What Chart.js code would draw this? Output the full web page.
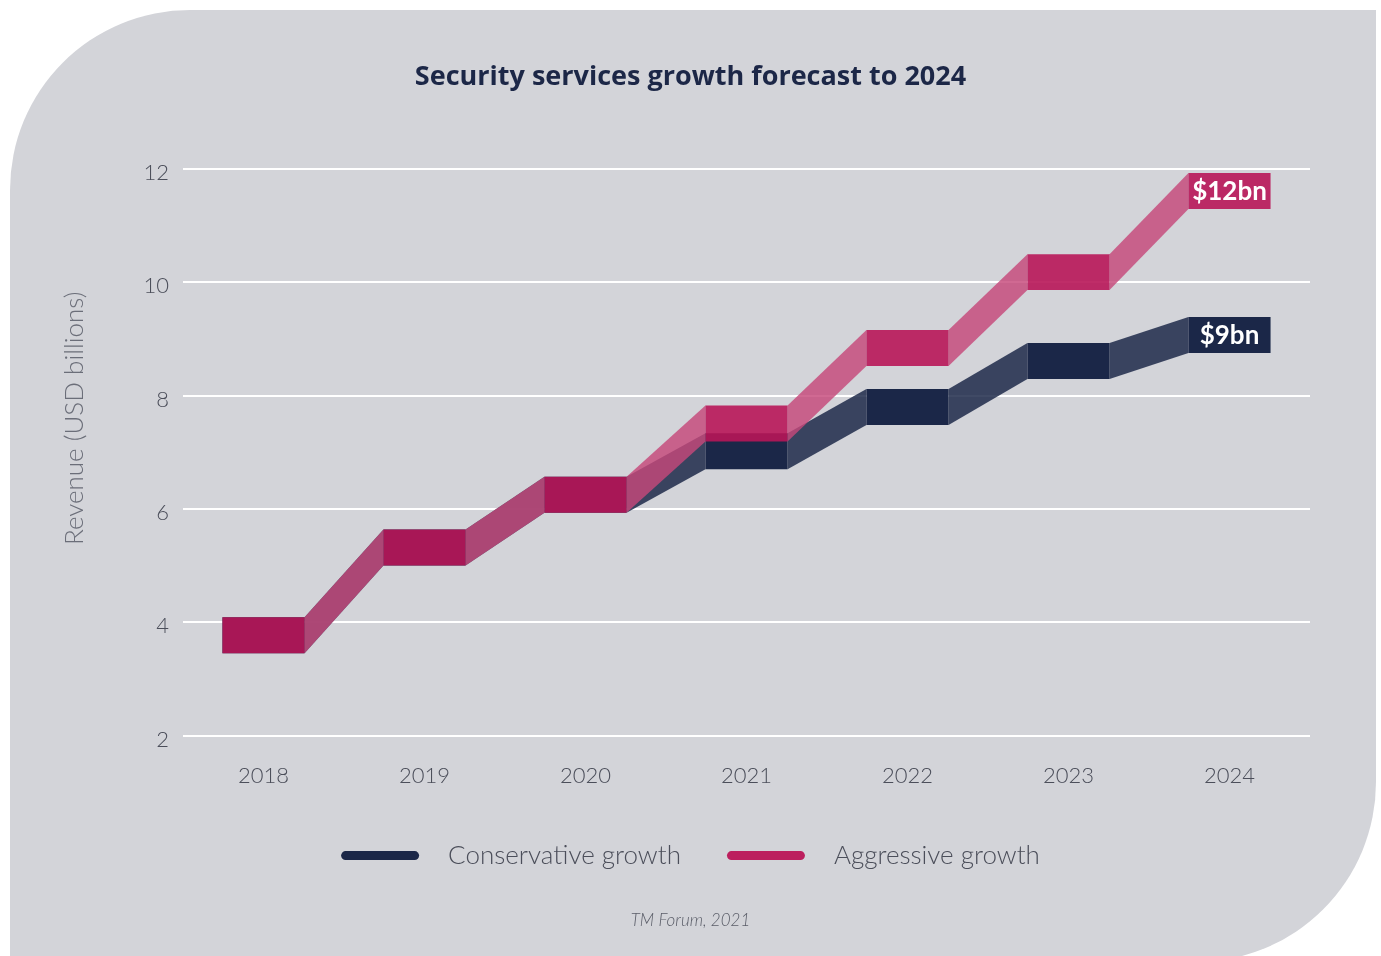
<!DOCTYPE html>
<html>
<head>
<meta charset="utf-8">
<title>Security services growth forecast</title>
<script src="https://cdn.jsdelivr.net/npm/chart.js@4.4.1/dist/chart.umd.min.js"></script>
<style>
  html, body { margin: 0; padding: 0; background: #ffffff; }
  #wrap { position: relative; width: 1381px; height: 956px; overflow: hidden; }
  #card {
    position: absolute; left: 10px; top: 10px; width: 1366px; height: 952px;
    background: #d3d4d9;
    border-radius: 180px 0 180px 0;
  }
  #chart-box { position: absolute; left: 0; top: 0; width: 1381px; height: 956px; }
</style>
</head>
<body>
<div id="wrap">
  <div id="card"></div>
  <div id="chart-box"><canvas id="growth-chart"></canvas></div>
</div>
<script>
// Revenue forecast, USD billions (middle of each year's band)
const years = ['2018', '2019', '2020', '2021', '2022', '2023', '2024'];
const conservative = [3.77, 5.32, 6.25, 7.02, 7.80, 8.61, 9.07];
const aggressive = [3.77, 5.32, 6.25, 7.51, 8.84, 10.18, 11.61];
const yTicks = [2, 4, 6, 8, 10, 12];

// thickness of each band, in billions
const BAND = 0.635;

const NAVY = '#1b2748';
const NAVY_LINK = 'rgba(27, 39, 72, 0.84)';
const PINK = 'rgba(184, 22, 88, 0.9)';
const PINK_LINK = 'rgba(198, 72, 122, 0.82)';
const PINK_SOLID = '#bc1f5e';
const TEXT = '#4b4e5a';
const FONT = 'Lato';

const toBand = v => [v - BAND / 2, v + BAND / 2];

// slanted ribbons joining one year's bar to the next
const bandLinks = {
  id: 'bandLinks',
  beforeDatasetDraw(chart, args) {
    const ds = chart.data.datasets[args.index];
    const bars = args.meta.data;
    const ctx = chart.ctx;
    ctx.save();
    ctx.fillStyle = ds.linkColor;
    for (let i = 0; i < bars.length - 1; i++) {
      const a = bars[i], b = bars[i + 1];
      const ax = a.x + a.width / 2;
      const bx = b.x - b.width / 2;
      ctx.beginPath();
      ctx.moveTo(ax, a.y);
      ctx.lineTo(bx, b.y);
      ctx.lineTo(bx, b.base);
      ctx.lineTo(ax, a.base);
      ctx.closePath();
      ctx.fill();
    }
    ctx.restore();
  }
};

// "$12bn" / "$9bn" written inside the final bar of each series
const endLabels = {
  id: 'endLabels',
  afterDatasetsDraw(chart) {
    const ctx = chart.ctx;
    ctx.save();
    ctx.font = `bold 26px ${FONT}`;
    ctx.fillStyle = '#ffffff';
    ctx.textAlign = 'center';
    ctx.textBaseline = 'middle';
    chart.data.datasets.forEach((ds, i) => {
      const bars = chart.getDatasetMeta(i).data;
      const last = bars[bars.length - 1];
      const value = ds.mids[ds.mids.length - 1];
      ctx.fillText('$' + Math.round(value) + 'bn', last.x, (last.y + last.base) / 2 + 1);
    });
    ctx.restore();
  }
};

// rotated y-axis caption, sitting a little above the axis middle
const axisCaption = {
  id: 'axisCaption',
  afterDraw(chart) {
    const ctx = chart.ctx;
    const area = chart.chartArea;
    ctx.save();
    ctx.translate(75, (area.top + area.bottom) / 2 - 34);
    ctx.rotate(-Math.PI / 2);
    ctx.font = `300 26px ${FONT}`;
    ctx.fillStyle = '#6b6e79';
    ctx.textAlign = 'center';
    ctx.textBaseline = 'middle';
    ctx.fillText('Revenue (USD billions)', 0, 0);
    ctx.restore();
  }
};

// legend with long rounded swatches
const lineLegend = {
  id: 'lineLegend',
  afterDraw(chart) {
    const ctx = chart.ctx;
    const swatchW = 78, swatchH = 9, gap = 29, spacing = 46;
    const y = chart.scales.x.bottom + 40;
    ctx.save();
    ctx.font = `300 26px ${FONT}`;
    const items = chart.data.datasets.map(ds => ({
      text: ds.label, color: ds.legendColor, w: ctx.measureText(ds.label).width
    }));
    const total = items.reduce((s, it) => s + swatchW + gap + it.w, 0) + spacing * (items.length - 1);
    let x = chart.width / 2 - total / 2;
    ctx.textBaseline = 'middle';
    ctx.textAlign = 'left';
    items.forEach(it => {
      ctx.fillStyle = it.color;
      ctx.beginPath();
      ctx.roundRect(x, y - swatchH / 2, swatchW, swatchH, swatchH / 2);
      ctx.fill();
      ctx.fillStyle = TEXT;
      ctx.fillText(it.text, x + swatchW + gap, y);
      x += swatchW + gap + it.w + spacing;
    });
    ctx.restore();
  }
};

new Chart(document.getElementById('growth-chart'), {
  type: 'bar',
  data: {
    labels: years,
    datasets: [
      {
        label: 'Conservative growth',
        mids: conservative,
        data: conservative.map(toBand),
        backgroundColor: NAVY,
        linkColor: NAVY_LINK,
        legendColor: NAVY,
        order: 1
      },
      {
        label: 'Aggressive growth',
        mids: aggressive,
        data: aggressive.map(toBand),
        backgroundColor: PINK,
        linkColor: PINK_LINK,
        legendColor: PINK_SOLID,
        order: 0
      }
    ]
  },
  options: {
    responsive: true,
    maintainAspectRatio: false,
    animation: false,
    events: [],
    layout: { padding: 0 },
    datasets: {
      bar: {
        grouped: false,
        barPercentage: 0.51,
        categoryPercentage: 1,
        borderWidth: 0,
        borderSkipped: false
      }
    },
    plugins: {
      legend: { display: false },
      tooltip: { enabled: false },
      title: {
        display: true,
        text: 'Security services growth forecast to 2024',
        color: '#1c2747',
        font: { family: '"Open Sans"', size: 27, weight: 'bold' },
        padding: { top: 61, bottom: 75.6 }
      },
      subtitle: {
        display: true,
        position: 'bottom',
        text: 'TM Forum, 2021',
        color: '#5a5d68',
        font: { family: FONT, size: 17, style: 'italic', weight: 300 },
        padding: { top: 95, bottom: 25 }
      }
    },
    scales: {
      x: {
        grid: { display: false },
        border: { display: false },
        ticks: {
          color: TEXT,
          padding: 19,
          font: { family: FONT, size: 22, weight: 300 }
        },
        afterFit(scale) { scale.height = 80; }
      },
      y: {
        min: 2,
        max: 12,
        afterBuildTicks(scale) { scale.ticks = yTicks.map(v => ({ value: v })); },
        grid: { color: '#ffffff', lineWidth: 2, drawTicks: false },
        border: { display: false },
        ticks: {
          color: TEXT,
          padding: 14,
          labelOffset: 4,
          font: { family: FONT, size: 22, weight: 300 }
        },
        afterFit(scale) { scale.width = 183; }
      },
      yRight: {
        position: 'right',
        grid: { display: false },
        border: { display: false },
        ticks: { display: false },
        afterFit(scale) { scale.width = 71; }
      }
    }
  },
  plugins: [bandLinks, endLabels, axisCaption, lineLegend]
});
</script>
</body>
</html>
